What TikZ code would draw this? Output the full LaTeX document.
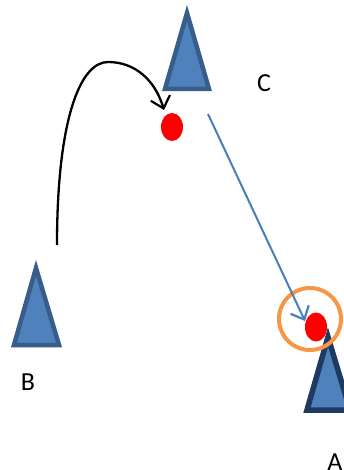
\documentclass[tikz,border=0pt]{standalone}
\usepackage{fontspec}
\setmainfont{Carlito}
\usetikzlibrary{arrows.meta,shapes.geometric}
\definecolor{trifill}{HTML}{4F81BD}
\definecolor{tristroke}{HTML}{385D8A}
\definecolor{tristrokeA}{HTML}{1F3A60}
\definecolor{arrowblue}{HTML}{4A7EBB}
\definecolor{ringorange}{HTML}{F79646}
\tikzset{
  tri/.style={fill=trifill, draw=tristroke, line width=4.5pt, line join=miter},
  triA/.style={fill=trifill, draw=tristrokeA, line width=5.5pt, line join=miter},
  dot/.style={ellipse, fill=red, draw=none, minimum width=22pt, minimum height=28pt, inner sep=0pt},
  lab/.style={font=\fontsize{26}{30}\selectfont, inner sep=0pt},
  ring/.style={circle, draw=ringorange, line width=4pt, minimum size=62pt, inner sep=0pt},
  barb/.style={-{Straight Barb[length=11pt,width=20pt,line width=2.2pt]}}
}
\begin{document}
\begin{tikzpicture}[x=1pt,y=-1pt]
\useasboundingbox (0,0) rectangle (344,470);
\fill[white] (0,0) rectangle (344,470);
% triangles
\draw[tri] (187,13) -- (209,89) -- (165,89) -- cycle;
\draw[tri] (36,268) -- (59,345) -- (14,345) -- cycle;
\begin{scope}
\clip (0,0) rectangle (344,470);
\draw[triA] (328,337) -- (350,410) -- (307,410) -- cycle;
\end{scope}
% labels
\node[lab] (lc) at (264,83) {C};
\node[lab] (lb) at (28,382) {B};
\node[lab] (la) at (335,462) {A};
% dots
\node[dot] (dc) at (172,127) {};
\node[ring] (ra) at (310,319) {};
\node[dot, minimum height=29pt] (da) at (316,327) {};
% connectors
\coordinate (s1) at (57,245);
\coordinate (e1) at (164,110);
\draw[barb, line width=2.3pt, black] (s1) .. controls (57,120) and (80,62) .. (108,62) .. controls (135,62) and (155,80) .. (e1);
\coordinate (s2) at (208,114);
\coordinate (e2) at (305,321);
\draw[barb, line width=2pt, arrowblue] (s2) -- (e2);
\end{tikzpicture}
\end{document}
